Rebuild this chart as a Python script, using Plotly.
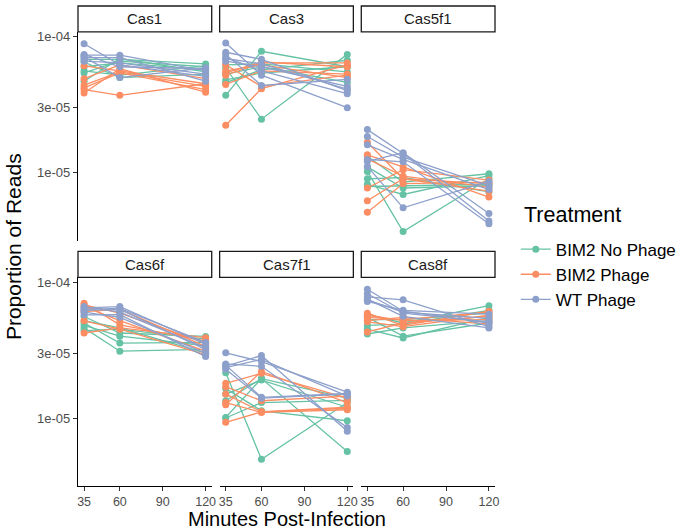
import plotly.graph_objects as go

TIMES = [35, 60, 120]
GENES = ["Cas1", "Cas3", "Cas5f1", "Cas6f", "Cas7f1", "Cas8f"]
TREATMENTS = ["BIM2 No Phage", "BIM2 Phage", "WT Phage"]
COLORS = ["#66C2A5", "#FC8D62", "#8DA0CB"]
X_TICKS = [35, 60, 90, 120]
Y_TICKS = [1e-5, 3e-5, 1e-4]
Y_TICK_TEXT = ["1e-05", "3e-05", "1e-04"]

# each row = one replicate: values at 35, 60, 120 minutes
CAS1_NO_PHAGE = [[6.8e-5, 6.8e-5, 6.3e-5], [5.4e-5, 6.6e-5, 6.0e-5], [4.7e-5, 6.9e-5, 5.5e-5],
                 [6.5e-5, 5.0e-5, 5.3e-5], [6.0e-5, 6.4e-5, 5.7e-5], [5.6e-5, 5.2e-5, 6.1e-5]]
CAS1_PHAGE = [[6.1e-5, 5.6e-5, 4.5e-5], [4.9e-5, 6.2e-5, 4.9e-5], [4.2e-5, 5.4e-5, 4.07e-5],
              [4.07e-5, 3.7e-5, 4.5e-5], [3.85e-5, 5.8e-5, 3.9e-5], [4.4e-5, 5.5e-5, 4.3e-5]]
CAS1_WT = [[8.85e-5, 6.2e-5, 5.1e-5], [7.3e-5, 7.3e-5, 5.6e-5], [7.1e-5, 5.0e-5, 5.9e-5],
           [7.0e-5, 7.0e-5, 4.7e-5], [6.6e-5, 6.4e-5, 5.3e-5], [7.4e-5, 6.0e-5, 5.8e-5]]

CAS3_NO_PHAGE = [[3.7e-5, 7.8e-5, 6.0e-5], [5.9e-5, 2.47e-5, 7.4e-5], [4.58e-5, 5.7e-5, 6.7e-5],
                 [5.3e-5, 6.0e-5, 4.6e-5], [6.2e-5, 6.3e-5, 5.5e-5], [4.8e-5, 5.4e-5, 6.0e-5]]
CAS3_PHAGE = [[2.23e-5, 4.14e-5, 6.2e-5], [6.2e-5, 4.3e-5, 5.2e-5], [5.4e-5, 6.5e-5, 6.0e-5],
              [5.6e-5, 6.2e-5, 5.0e-5], [4.45e-5, 5.6e-5, 5.3e-5], [5.2e-5, 6.4e-5, 6.4e-5]]
CAS3_WT = [[8.97e-5, 5.2e-5, 3.0e-5], [7.67e-5, 6.8e-5, 4.0e-5], [6.6e-5, 6.0e-5, 4.3e-5],
           [7.4e-5, 4.37e-5, 4.85e-5], [6.9e-5, 6.3e-5, 4.1e-5], [7.0e-5, 5.6e-5, 3.8e-5]]

CAS5F1_NO_PHAGE = [[1.32e-5, 8.5e-6, 9.8e-6], [1.02e-5, 3.68e-6, 9.0e-6], [7.9e-6, 8.0e-6, 8.2e-6],
                   [8.2e-6, 6.9e-6, 9.5e-6], [1.1e-5, 7.7e-6, 8.0e-6], [9.0e-6, 9.2e-6, 7.2e-6]]
CAS5F1_PHAGE = [[1.67e-5, 9.0e-6, 8.3e-6], [1.35e-5, 1.1e-5, 6.6e-6], [1.26e-5, 9.4e-6, 7.8e-6],
                [7.7e-6, 1.05e-5, 8.8e-6], [6.2e-6, 9.0e-6, 7.3e-6], [5.1e-6, 8.3e-6, 8.5e-6]]
CAS5F1_WT = [[2.07e-5, 1.38e-5, 4.4e-6], [1.84e-5, 1.3e-5, 8.0e-6], [1.21e-5, 1.4e-5, 5.0e-6],
             [1.11e-5, 5.5e-6, 8.6e-6], [1.6e-5, 1.25e-5, 7.5e-6], [1.25e-5, 1.2e-5, 4.2e-6]]

CAS6F_NO_PHAGE = [[5.58e-5, 4.22e-5, 3.98e-5], [5.0e-5, 3.56e-5, 3.6e-5], [4.6e-5, 3.1e-5, 3.2e-5],
                  [4.4e-5, 4.5e-5, 3.8e-5], [4.8e-5, 4.0e-5, 3.4e-5], [5.2e-5, 4.6e-5, 3.0e-5]]
CAS6F_PHAGE = [[6.99e-5, 4.85e-5, 3.7e-5], [6.07e-5, 6.3e-5, 3.37e-5], [5.19e-5, 4.5e-5, 2.93e-5],
               [4.22e-5, 4.6e-5, 3.9e-5], [6.6e-5, 5.2e-5, 3.1e-5], [6.8e-5, 5.9e-5, 3.55e-5]]
CAS6F_WT = [[6.45e-5, 6.6e-5, 3.5e-5], [6.2e-5, 6.3e-5, 3.2e-5], [5.74e-5, 5.75e-5, 2.83e-5],
            [6.6e-5, 6.0e-5, 3.3e-5], [6.0e-5, 5.5e-5, 3.0e-5], [6.3e-5, 6.4e-5, 3.6e-5]]

CAS7F1_NO_PHAGE = [[2.15e-5, 4.97e-6, 1.3e-5], [1.01e-5, 1.95e-5, 5.67e-6], [1.34e-5, 1.95e-5, 1.4e-5],
                   [1.65e-5, 1.13e-5, 9.55e-6], [1.0e-5, 1.3e-5, 1.35e-5], [1.5e-5, 1.9e-5, 1.2e-5]]
CAS7F1_PHAGE = [[1.8e-5, 2.13e-5, 1.4e-5], [1.5e-5, 1.11e-5, 1.18e-5], [1.25e-5, 2.2e-5, 1.3e-5],
                [9.3e-6, 1.11e-5, 1.2e-5], [1.7e-5, 1.34e-5, 1.45e-5], [1.3e-5, 1.1e-5, 1.15e-5]]
CAS7F1_WT = [[3.02e-5, 2.6e-5, 1.55e-5], [2.41e-5, 2.88e-5, 8.0e-6], [2.28e-5, 1.4e-5, 1.5e-5],
             [2.5e-5, 2.4e-5, 8.5e-6], [2.35e-5, 2.7e-5, 1.45e-5], [2.45e-5, 1.42e-5, 1.52e-5]]

CAS8F_NO_PHAGE = [[5.75e-5, 5.0e-5, 6.7e-5], [4.5e-5, 3.88e-5, 5.5e-5], [4.15e-5, 4.6e-5, 5.2e-5],
                  [5.3e-5, 5.3e-5, 5.9e-5], [5.5e-5, 4.0e-5, 5.0e-5], [4.8e-5, 4.9e-5, 6.2e-5]]
CAS8F_PHAGE = [[5.5e-5, 5.3e-5, 6.0e-5], [5.1e-5, 4.7e-5, 5.7e-5], [4.3e-5, 5.0e-5, 5.6e-5],
               [5.7e-5, 5.2e-5, 5.3e-5], [5.9e-5, 4.8e-5, 6.1e-5], [5.2e-5, 5.5e-5, 4.9e-5]]
CAS8F_WT = [[8.85e-5, 6.1e-5, 5.0e-5], [7.77e-5, 7.4e-5, 4.7e-5], [7.4e-5, 6.0e-5, 5.4e-5],
            [7.2e-5, 6.2e-5, 5.8e-5], [8.2e-5, 5.9e-5, 5.1e-5], [7.5e-5, 5.6e-5, 4.6e-5]]

DATA = {
    "Cas1": [CAS1_NO_PHAGE, CAS1_PHAGE, CAS1_WT],
    "Cas3": [CAS3_NO_PHAGE, CAS3_PHAGE, CAS3_WT],
    "Cas5f1": [CAS5F1_NO_PHAGE, CAS5F1_PHAGE, CAS5F1_WT],
    "Cas6f": [CAS6F_NO_PHAGE, CAS6F_PHAGE, CAS6F_WT],
    "Cas7f1": [CAS7F1_NO_PHAGE, CAS7F1_PHAGE, CAS7F1_WT],
    "Cas8f": [CAS8F_NO_PHAGE, CAS8F_PHAGE, CAS8F_WT],
}

FONT = "Liberation Sans, Arial, sans-serif"

# pixel layout of the plotting area
L, R, T, B = 78, 499, 3, 486
W, H = R - L, B - T
COL_PX = [(78, 213), (221, 356), (364, 499)]
ROW_PX = [(29, 239), (276, 486)]
STRIP_PX = [(3, 29), (250, 276)]


def xp(px):
    return (px - L) / W


def yp(py):
    return (B - py) / H


fig = go.Figure()
shown = set()
layout_axes = {}
shapes = []
annotations = []

for i, gene in enumerate(GENES):
    r, c = divmod(i, 3)
    n = i + 1
    xa = "x" if n == 1 else f"x{n}"
    ya = "y" if n == 1 else f"y{n}"
    for t, (treat, color) in enumerate(zip(TREATMENTS, COLORS)):
        for rep in DATA[gene][t]:
            show = treat not in shown
            shown.add(treat)
            fig.add_trace(go.Scatter(
                x=TIMES, y=rep, xaxis=xa, yaxis=ya, mode="lines+markers",
                line=dict(color=color, width=1.3),
                marker=dict(color=color, size=7),
                name=treat, legendgroup=treat, showlegend=show,
                hoverinfo="x+y+name",
            ))
    x0, x1 = COL_PX[c]
    y0, y1 = ROW_PX[r]
    xkey = "xaxis" if n == 1 else f"xaxis{n}"
    ykey = "yaxis" if n == 1 else f"yaxis{n}"
    bottom = r == 1
    left = c == 0
    layout_axes[xkey] = dict(
        domain=[xp(x0), xp(x1)], anchor=ya, range=[30.75, 124.25],
        tickvals=X_TICKS, ticktext=[str(v) for v in X_TICKS],
        showticklabels=bottom, ticks="outside" if bottom else "",
        ticklen=4, tickwidth=1, tickcolor="#333333",
        showline=bottom, linecolor="#000000", linewidth=1.2,
        showgrid=False, zeroline=False,
        tickfont=dict(family=FONT, size=12.5, color="#4D4D4D"),
    )
    layout_axes[ykey] = dict(
        domain=[yp(y1), yp(y0)], anchor=xa, type="log", range=[-5.5, -3.965],
        tickvals=Y_TICKS, ticktext=Y_TICK_TEXT,
        showticklabels=left, ticks="outside" if left else "",
        ticklen=4, tickwidth=1, tickcolor="#333333",
        showline=left, linecolor="#000000", linewidth=1.2,
        showgrid=False, zeroline=False,
        tickfont=dict(family=FONT, size=13, color="#4D4D4D"),
    )
    s0, s1 = STRIP_PX[r]
    shapes.append(dict(type="rect", xref="paper", yref="paper",
                       x0=xp(x0), x1=xp(x1), y0=yp(s1), y1=yp(s0),
                       line=dict(color="#1A1A1A", width=1.3), fillcolor="white"))
    annotations.append(dict(text=gene, xref="paper", yref="paper",
                            x=(xp(x0) + xp(x1)) / 2, y=(yp(s0) + yp(s1)) / 2,
                            xanchor="center", yanchor="middle", showarrow=False,
                            font=dict(family=FONT, size=15, color="#1A1A1A")))

annotations.append(dict(text="Minutes Post-Infection", xref="paper", yref="paper",
                        x=xp(289), y=yp(519), xanchor="center", yanchor="middle",
                        showarrow=False, font=dict(family=FONT, size=20, color="#000000")))
annotations.append(dict(text="Proportion of Reads", xref="paper", yref="paper",
                        x=xp(13), y=yp(245), xanchor="center", yanchor="middle",
                        textangle=-90, showarrow=False,
                        font=dict(family=FONT, size=21, color="#000000")))
annotations.append(dict(text="Treatment", xref="paper", yref="paper",
                        x=xp(526), y=yp(213), xanchor="left", yanchor="middle",
                        showarrow=False, font=dict(family=FONT, size=21.5, color="#000000")))

fig.update_layout(
    width=685, height=531,
    margin=dict(l=L, r=685 - R, t=T, b=531 - B),
    paper_bgcolor="white", plot_bgcolor="white",
    shapes=shapes, annotations=annotations,
    legend=dict(
        x=xp(520), y=yp(230), xanchor="left", yanchor="top",
        font=dict(family=FONT, size=17, color="#000000"),
        itemwidth=30, tracegroupgap=0, bgcolor="rgba(0,0,0,0)",
    ),
    **layout_axes,
)

fig.write_html("out.html", config={"displayModeBar": False},
               post_script="document.body.style.margin='0px';")
